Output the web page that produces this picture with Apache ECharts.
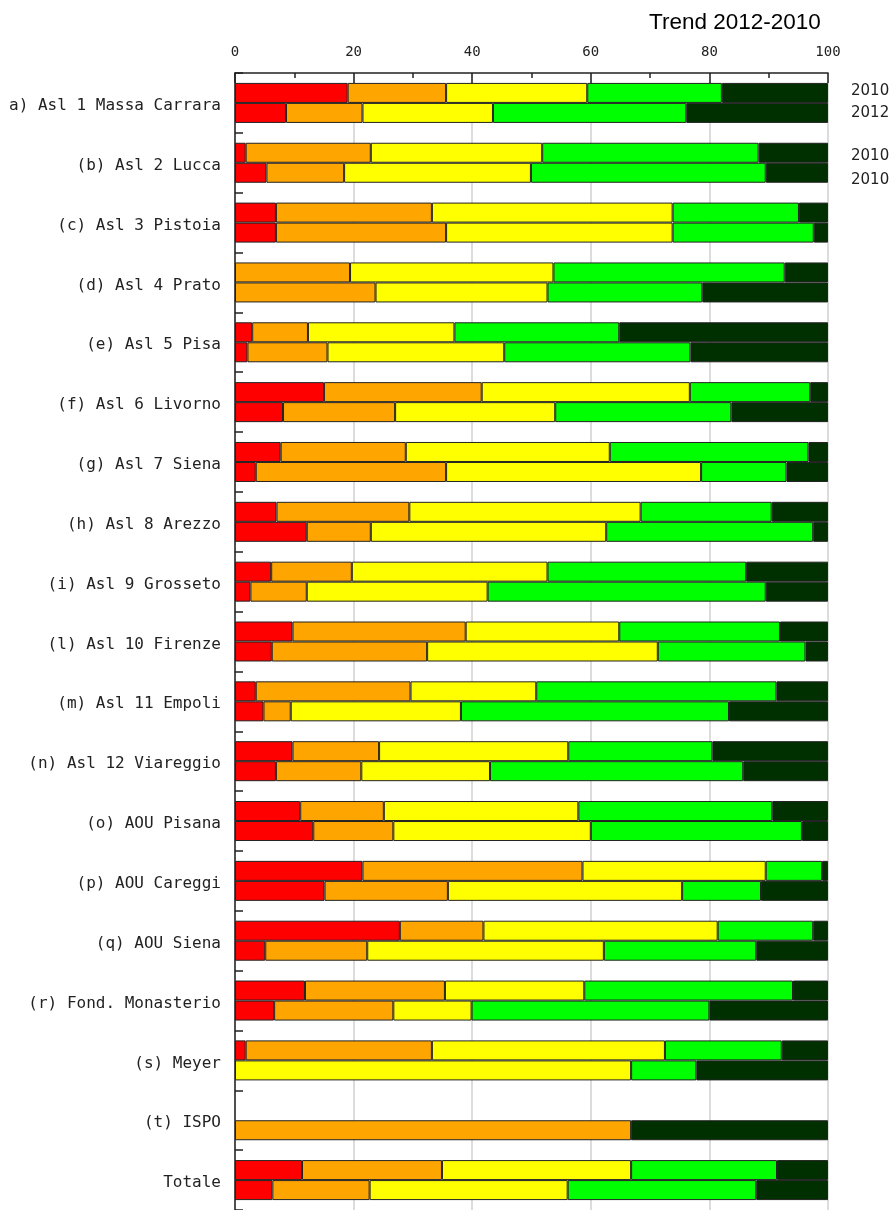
<!DOCTYPE html>
<html>
<head>
<meta charset="utf-8">
<script src="https://cdn.jsdelivr.net/npm/echarts@6/dist/echarts.min.js"></script>
<style>
html,body{margin:0;padding:0;background:#fff;}
#chart{width:892px;height:1210px;}
</style>
</head>
<body>
<div id="chart"></div>
<script>
const categories = ["a) Asl 1 Massa Carrara","(b) Asl 2 Lucca","(c) Asl 3 Pistoia","(d) Asl 4 Prato","(e) Asl 5 Pisa","(f) Asl 6 Livorno","(g) Asl 7 Siena","(h) Asl 8 Arezzo","(i) Asl 9 Grosseto","(l) Asl 10 Firenze","(m) Asl 11 Empoli","(n) Asl 12 Viareggio","(o) AOU Pisana","(p) AOU Careggi","(q) AOU Siena","(r) Fond. Monasterio","(s) Meyer","(t) ISPO","Totale"];

// 2010 values (%)
const red2010    = [19.0,1.8,6.9,null,2.9,15.0,7.7,7.0,6.1,9.7,3.5,9.7,11.0,21.5,27.8,11.8,1.8,null,11.3];
const orange2010 = [16.6,21.1,26.3,19.4,9.4,26.6,21.1,22.4,13.6,29.2,26.1,14.6,14.1,37.1,14.1,23.6,31.4,null,23.6];
const yellow2010 = [23.8,28.9,40.6,34.3,24.7,35.1,34.4,39.0,33.0,25.9,21.2,31.9,32.8,30.9,39.5,23.5,39.3,null,31.9];
const green2010  = [22.7,36.5,21.3,39.0,27.8,20.3,33.5,22.1,33.5,27.1,40.5,24.3,32.7,9.5,16.1,35.2,19.7,null,24.6];
const dark2010   = [17.9,11.7,4.9,7.3,35.2,3.0,3.3,9.5,13.8,8.1,8.7,19.5,9.4,1.0,2.5,5.9,7.8,null,8.6];

// 2012 values (%)
const red2012    = [8.6,5.3,6.9,null,2.1,8.1,3.5,12.1,2.6,6.2,4.8,6.9,13.2,15.1,5.1,6.6,null,null,6.3];
const orange2012 = [12.9,13.1,28.7,23.7,13.5,18.9,32.1,10.8,9.5,26.2,4.6,14.4,13.5,20.8,17.2,20.1,null,66.8,16.4];
const yellow2012 = [22.0,31.5,38.2,29.0,29.8,27.0,43.0,39.7,30.5,38.9,28.7,21.7,33.3,39.5,39.9,13.2,66.8,null,33.4];
const green2012  = [32.6,39.6,23.8,26.1,31.4,29.7,14.4,34.9,46.9,24.9,45.2,42.7,35.6,13.3,25.7,40.1,11.0,null,31.8];
const dark2012   = [23.9,10.5,2.4,21.2,23.2,16.3,7.0,2.5,10.5,3.8,16.7,14.3,4.4,11.3,12.1,20.0,22.2,33.2,12.1];

const xTicks = [0,20,40,60,80,100];
const yearLabels = ["2010","2012","2010","2010"];
const titleText = "Trend 2012-2010";

const colors = ["#ff0000","#ffa500","#ffff00","#00ff00","#003000"];
const sets2010 = [red2010,orange2010,yellow2010,green2010,dark2010];
const sets2012 = [red2012,orange2012,yellow2012,green2012,dark2012];

const series = [];
function addStack(sets, stack){
  sets.forEach((d,i)=>{
    series.push({
      type:'bar', stack:stack, name:stack+'_'+i, data:d,
      barWidth:20, barGap:'0%',
      itemStyle:{color:colors[i], borderColor:'#222', borderWidth:1},
      emphasis:{disabled:true}
    });
  });
}
addStack(sets2010,'2010');
addStack(sets2012,'2012');

const chart = echarts.init(document.getElementById('chart'), null, {renderer:'canvas'});
const labelYs = [90,112,155,179];
chart.setOption({
  animation:false,
  backgroundColor:'#ffffff',
  title:{text:titleText, left:644, top:6,
    textStyle:{fontFamily:'Liberation Sans, Arial, sans-serif', fontSize:22.5, fontWeight:'normal', color:'#000'}},
  grid:{left:235, top:73, width:593, height:1140, containLabel:false},
  xAxis:{type:'value', position:'top', min:xTicks[0], max:xTicks[xTicks.length-1], interval:20,
    axisLine:{show:true, lineStyle:{color:'#222', width:1.5}},
    axisTick:{show:true, inside:true, length:10, lineStyle:{color:'#222', width:1.5}},
    minorTick:{show:true, splitNumber:2, length:5, lineStyle:{color:'#222', width:1.5}},
    splitLine:{show:true, lineStyle:{color:'#dcdcdc', width:2}},
    axisLabel:{margin:14, fontFamily:'DejaVu Sans Mono, monospace', fontSize:14, color:'#222'}
  },
  yAxis:{type:'category', inverse:true, data:categories,
    axisLine:{show:true, lineStyle:{color:'#222', width:1.5}},
    axisTick:{show:true, inside:true, length:8, lineStyle:{color:'#222', width:1.5}},
    splitLine:{show:false},
    axisLabel:{margin:14, fontFamily:'DejaVu Sans Mono, monospace', fontSize:16, color:'#222',
      formatter:function(v){return '{a|' + v + '}';},
      rich:{a:{fontFamily:'DejaVu Sans Mono, monospace', fontSize:16, color:'#222', padding:[6,0,0,0]}}}
  },
  graphic: yearLabels.map((t,i)=>({type:'text', left:851, top:labelYs[i]-6,
    style:{text:t, fontFamily:'DejaVu Sans, sans-serif', fontSize:15, fill:'#222'}})),
  series:series
});
</script>
</body>
</html>
